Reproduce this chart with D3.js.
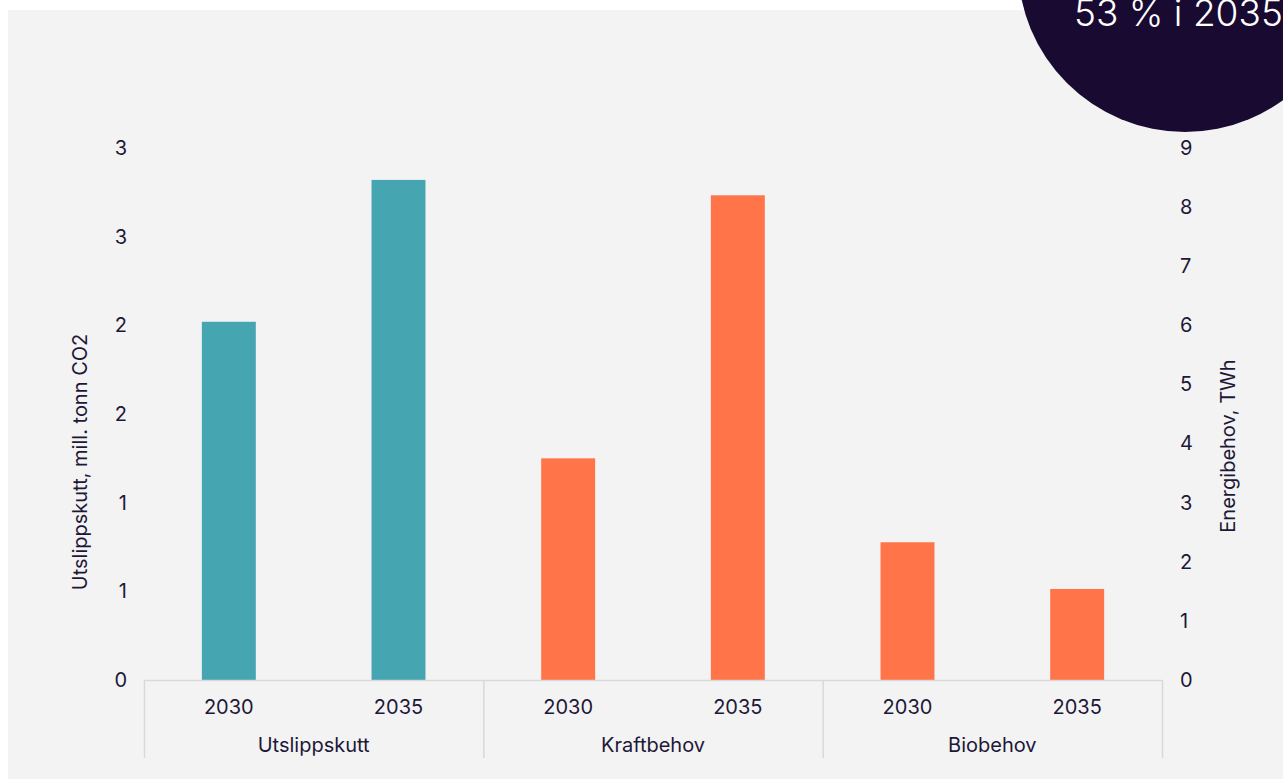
<!DOCTYPE html>
<html>
<head>
<meta charset="utf-8">
<script src="https://cdn.jsdelivr.net/npm/d3@7/dist/d3.min.js"></script>
<style>
  html, body { margin: 0; padding: 0; background: #ffffff; }
  svg { display: block; }
  text { font-family: Inter, "Noto Sans", sans-serif; fill: #1e1838; }
</style>
</head>
<body>
<svg id="chart" width="1283" height="782"></svg>
<script>
// Groups and their two years
const groups = ["Utslippskutt", "Kraftbehov", "Biobehov"];
const years = ["2030", "2035"];

// Values per group (Utslippskutt on left axis, mill. tonn CO2; the others on right axis, TWh)
const utslippskutt = [2.02, 2.82];
const kraftbehov = [3.75, 8.2];
const biobehov = [2.33, 1.54];

// Axis ticks
const leftTickValues = [0, 0.5, 1, 1.5, 2, 2.5, 3];
const leftTickLabels = ["0", "1", "1", "2", "2", "3", "3"];
const rightTickValues = [0, 1, 2, 3, 4, 5, 6, 7, 8, 9];

const leftTitle = "Utslippskutt, mill. tonn CO2";
const rightTitle = "Energibehov, TWh";
const badgeText = "53 % i 2035";

const colors = { Utslippskutt: "#45a5b0", Kraftbehov: "#ff7549", Biobehov: "#ff7549" };

const rows = [];
[utslippskutt, kraftbehov, biobehov].forEach((vals, gi) => {
  years.forEach((y, yi) => {
    rows.push({ group: groups[gi], year: y, key: groups[gi] + "|" + y, value: vals[yi], axis: gi === 0 ? "left" : "right" });
  });
});

const W = 1283, H = 782;
const plot = { left: 144, right: 1162, top: 148, bottom: 680 };
const fs = 20;

const svg = d3.select("#chart");

// background panel
svg.append("rect").attr("x", 8).attr("y", 10).attr("width", W - 8).attr("height", 769).attr("fill", "#f3f3f3");

const x = d3.scaleBand().domain(rows.map(d => d.key)).range([plot.left, plot.right]).paddingInner(0.682).paddingOuter(0.341);
const xGroup = d3.scaleBand().domain(groups).range([plot.left, plot.right]).padding(0);
const yLeft = d3.scaleLinear().domain([0, 3]).range([plot.bottom, plot.top]);
const yRight = d3.scaleLinear().domain([0, 9]).range([plot.bottom, plot.top]);

// bars
svg.append("g").selectAll("rect").data(rows).join("rect")
  .attr("x", d => x(d.key))
  .attr("width", x.bandwidth())
  .attr("y", d => (d.axis === "left" ? yLeft : yRight)(d.value))
  .attr("height", d => plot.bottom - (d.axis === "left" ? yLeft : yRight)(d.value))
  .attr("fill", d => colors[d.group]);

// left axis
const leftAxis = d3.axisLeft(yLeft).tickValues(leftTickValues)
  .tickFormat((d, i) => leftTickLabels[i]).tickSize(0).tickPadding(0);
const gl = svg.append("g").attr("transform", `translate(127,0)`).call(leftAxis);
gl.select(".domain").remove();
gl.selectAll("text").attr("font-size", fs).style("font-family", "Inter, sans-serif").attr("fill", "#1e1838");

// right axis
const rightAxis = d3.axisRight(yRight).tickValues(rightTickValues).tickSize(0).tickPadding(0);
const gr = svg.append("g").attr("transform", `translate(1180,0)`).call(rightAxis);
gr.select(".domain").remove();
gr.selectAll("text").attr("font-size", fs).style("font-family", "Inter, sans-serif").attr("fill", "#1e1838");

// baseline and group separators
svg.append("line").attr("x1", plot.left).attr("x2", plot.right)
  .attr("y1", plot.bottom + 0.5).attr("y2", plot.bottom + 0.5)
  .attr("stroke", "#d9d9d9").attr("stroke-width", 1.5);
const seps = groups.map(g => xGroup(g)).concat([plot.right]);
svg.append("g").selectAll("line").data(seps).join("line")
  .attr("x1", d => d + 0.5).attr("x2", d => d + 0.5)
  .attr("y1", plot.bottom).attr("y2", 758)
  .attr("stroke", "#d9d9d9").attr("stroke-width", 1.5);

// year labels
svg.append("g").selectAll("text").data(rows).join("text")
  .attr("x", d => x(d.key) + x.bandwidth() / 2)
  .attr("y", 714)
  .attr("text-anchor", "middle")
  .attr("font-size", fs)
  .text(d => d.year);

// group labels
svg.append("g").selectAll("text").data(groups).join("text")
  .attr("x", d => xGroup(d) + xGroup.bandwidth() / 2)
  .attr("y", 752)
  .attr("text-anchor", "middle")
  .attr("font-size", fs)
  .text(d => d);

// axis titles
svg.append("text")
  .attr("transform", `translate(87,462) rotate(-90)`)
  .attr("text-anchor", "middle").attr("font-size", fs)
  .text(leftTitle);
svg.append("text")
  .attr("transform", `translate(1235,446) rotate(-90)`)
  .attr("text-anchor", "middle").attr("font-size", fs)
  .text(rightTitle);

// badge in the corner
svg.append("circle").attr("cx", 1185).attr("cy", -35).attr("r", 167).attr("fill", "#180a30");
svg.append("text").attr("x", 1074).attr("y", 26)
  .attr("font-size", 37).attr("font-weight", 300).style("fill", "#ffffff")
  .text(badgeText);
</script>
</body>
</html>
